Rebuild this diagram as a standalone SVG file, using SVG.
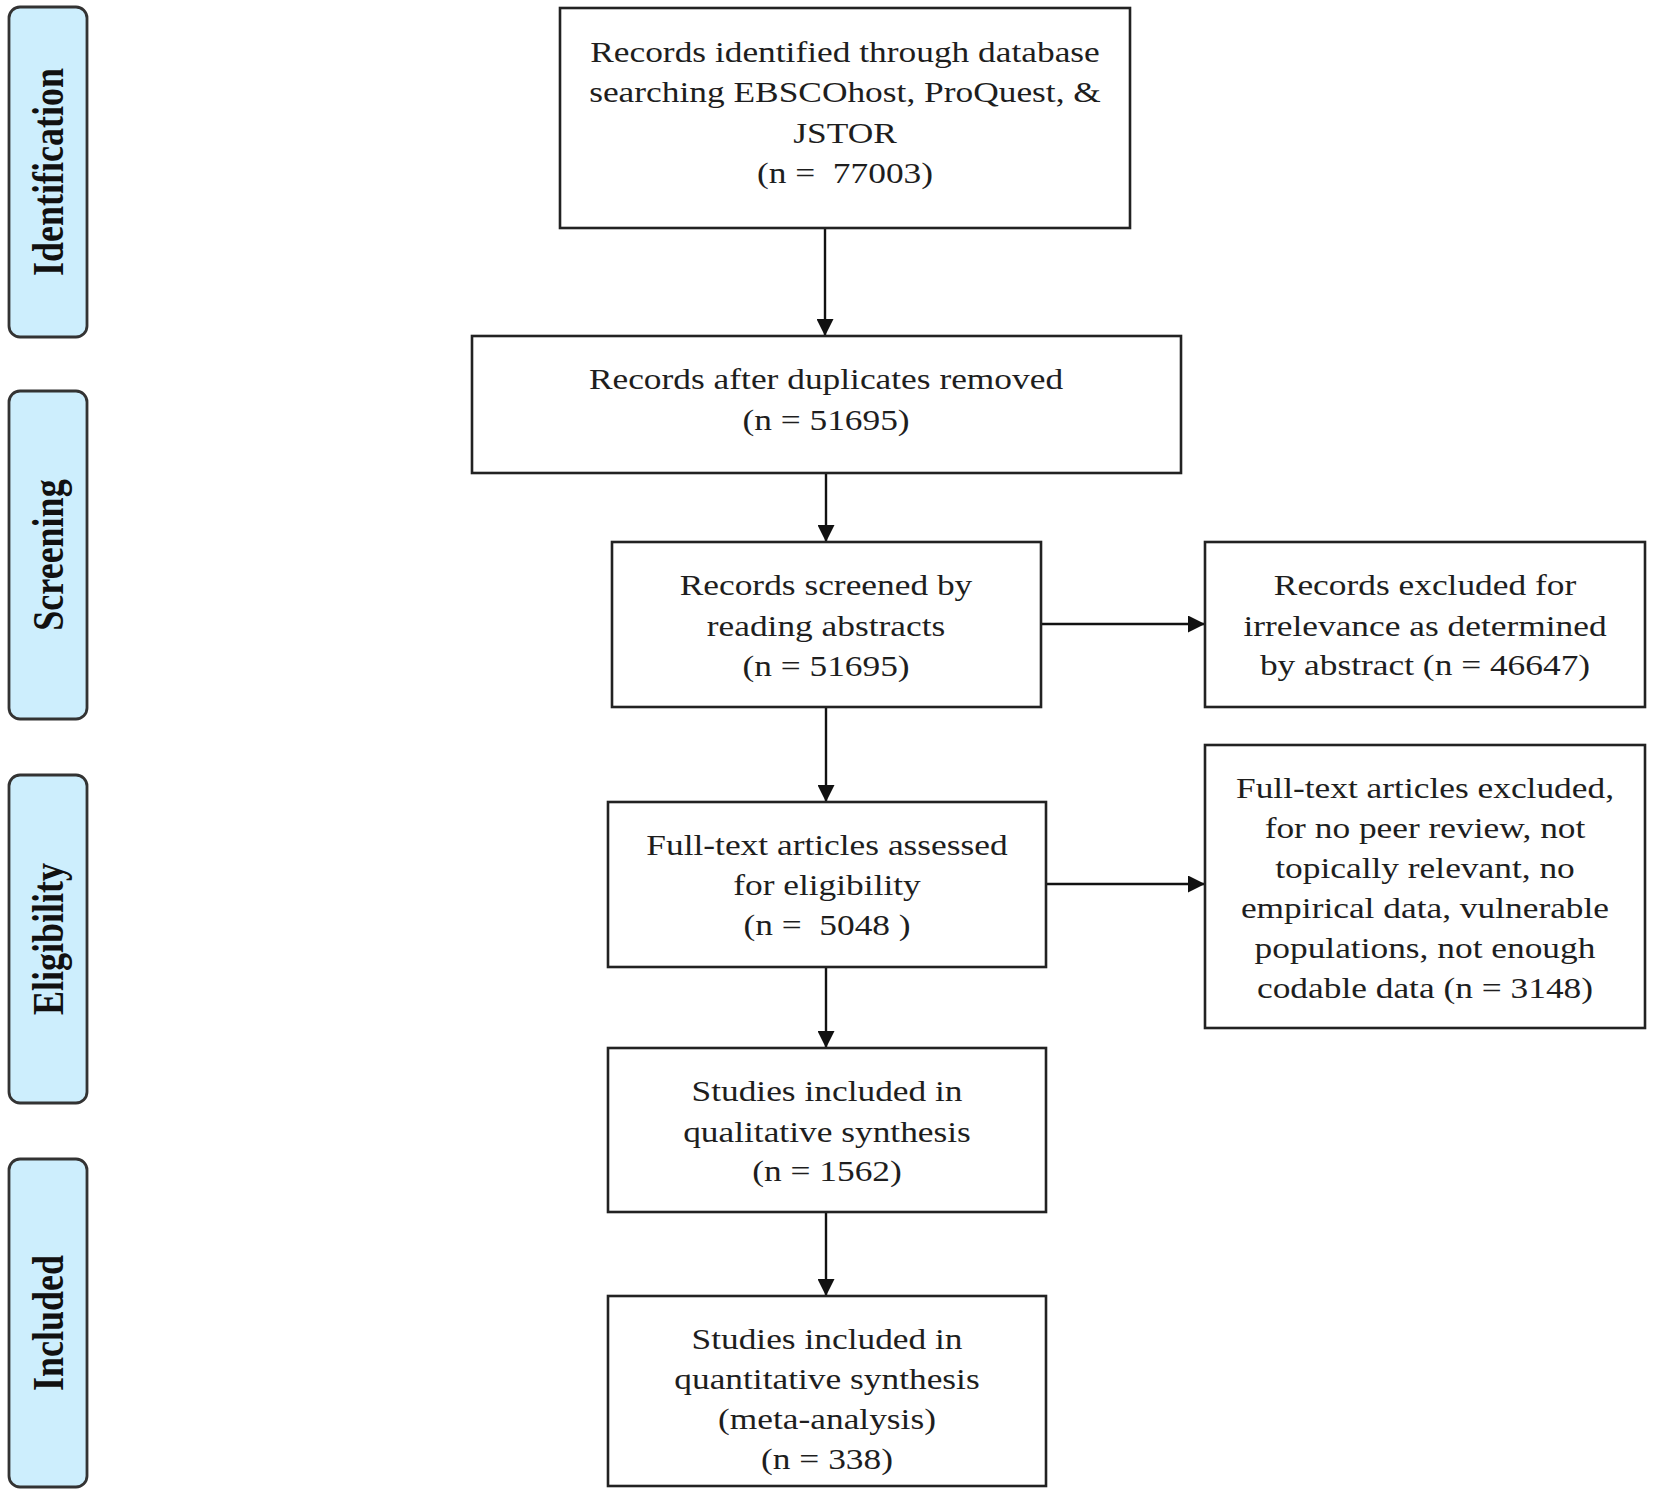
<svg xmlns="http://www.w3.org/2000/svg" width="1653" height="1497" viewBox="0 0 1653 1497">
<defs>
<style>
.box{fill:#ffffff;stroke:#222222;stroke-width:2.6}
.pill{fill:#cdeefd;stroke:#333333;stroke-width:2.8}
.t{font-family:"Liberation Serif","Times New Roman",serif;font-size:29px;fill:#1e1e1e;text-anchor:middle}
.lbl{font-family:"Liberation Serif","Times New Roman",serif;font-size:36px;font-weight:bold;fill:#111111;text-anchor:middle}
.conn{stroke:#111111;stroke-width:2.4;fill:none;marker-end:url(#ah)}
</style>
<marker id="ah" markerUnits="userSpaceOnUse" markerWidth="17" markerHeight="17" refX="17" refY="8.5" orient="auto">
<path d="M0,0 L17,8.5 L0,17 Z" fill="#111111"/>
</marker>
</defs>
<rect width="1653" height="1497" fill="#ffffff"/>

<g id="phase-identification">
<rect class="pill" x="9" y="7" width="78" height="330" rx="11" ry="11"/>
<text class="lbl" transform="translate(48,172) scale(1.22,1) rotate(-90)" x="0" y="12">Identification</text>
</g>
<g id="phase-screening">
<rect class="pill" x="9" y="391" width="78" height="328" rx="11" ry="11"/>
<text class="lbl" transform="translate(48,555) scale(1.22,1) rotate(-90)" x="0" y="12">Screening</text>
</g>
<g id="phase-eligibility">
<rect class="pill" x="9" y="775" width="78" height="328" rx="11" ry="11"/>
<text class="lbl" transform="translate(48,939) scale(1.22,1) rotate(-90)" x="0" y="12">Eligibility</text>
</g>
<g id="phase-included">
<rect class="pill" x="9" y="1159" width="78" height="328" rx="11" ry="11"/>
<text class="lbl" transform="translate(48,1323) scale(1.22,1) rotate(-90)" x="0" y="12">Included</text>
</g>

<g id="connectors">
<line class="conn" x1="825" y1="228" x2="825" y2="336"/>
<line class="conn" x1="826" y1="473" x2="826" y2="542"/>
<line class="conn" x1="826" y1="707" x2="826" y2="802"/>
<line class="conn" x1="826" y1="967" x2="826" y2="1048"/>
<line class="conn" x1="826" y1="1212" x2="826" y2="1296"/>
<line class="conn" x1="1041" y1="624" x2="1205" y2="624"/>
<line class="conn" x1="1046" y1="884" x2="1205" y2="884"/>
</g>

<g id="n-identified">
<rect class="box" x="560" y="8" width="570" height="220"/>
<text class="t" transform="matrix(1.22 0 0 1 845 0)" xml:space="preserve"><tspan x="0" y="62">Records identified through database</tspan><tspan x="0" y="102">searching EBSCOhost, ProQuest, &amp;</tspan><tspan x="0" y="143">JSTOR</tspan><tspan x="0" y="183">(n =  77003)</tspan></text>
</g>
<g id="n-duplicates">
<rect class="box" x="472" y="336" width="709" height="137"/>
<text class="t" transform="matrix(1.22 0 0 1 826 0)"><tspan x="0" y="389">Records after duplicates removed</tspan><tspan x="0" y="430">(n = 51695)</tspan></text>
</g>
<g id="n-screened">
<rect class="box" x="612" y="542" width="429" height="165"/>
<text class="t" transform="matrix(1.22 0 0 1 826 0)"><tspan x="0" y="595">Records screened by</tspan><tspan x="0" y="636">reading abstracts</tspan><tspan x="0" y="676">(n = 51695)</tspan></text>
</g>
<g id="n-excluded-abstract">
<rect class="box" x="1205" y="542" width="440" height="165"/>
<text class="t" transform="matrix(1.22 0 0 1 1425 0)"><tspan x="0" y="595">Records excluded for</tspan><tspan x="0" y="636">irrelevance as determined</tspan><tspan x="0" y="675">by abstract (n = 46647)</tspan></text>
</g>
<g id="n-fulltext">
<rect class="box" x="608" y="802" width="438" height="165"/>
<text class="t" transform="matrix(1.22 0 0 1 827 0)" xml:space="preserve"><tspan x="0" y="855">Full-text articles assessed</tspan><tspan x="0" y="895">for eligibility</tspan><tspan x="0" y="935">(n =  5048 )</tspan></text>
</g>
<g id="n-excluded-fulltext">
<rect class="box" x="1205" y="745" width="440" height="283"/>
<text class="t" transform="matrix(1.22 0 0 1 1425 0)"><tspan x="0" y="798">Full-text articles excluded,</tspan><tspan x="0" y="838">for no peer review, not</tspan><tspan x="0" y="878">topically relevant, no</tspan><tspan x="0" y="918">empirical data, vulnerable</tspan><tspan x="0" y="958">populations, not enough</tspan><tspan x="0" y="998">codable data (n = 3148)</tspan></text>
</g>
<g id="n-qualitative">
<rect class="box" x="608" y="1048" width="438" height="164"/>
<text class="t" transform="matrix(1.22 0 0 1 827 0)"><tspan x="0" y="1101">Studies included in</tspan><tspan x="0" y="1142">qualitative synthesis</tspan><tspan x="0" y="1181">(n = 1562)</tspan></text>
</g>
<g id="n-quantitative">
<rect class="box" x="608" y="1296" width="438" height="190"/>
<text class="t" transform="matrix(1.22 0 0 1 827 0)"><tspan x="0" y="1349">Studies included in</tspan><tspan x="0" y="1389">quantitative synthesis</tspan><tspan x="0" y="1429">(meta-analysis)</tspan><tspan x="0" y="1469">(n = 338)</tspan></text>
</g>
</svg>
